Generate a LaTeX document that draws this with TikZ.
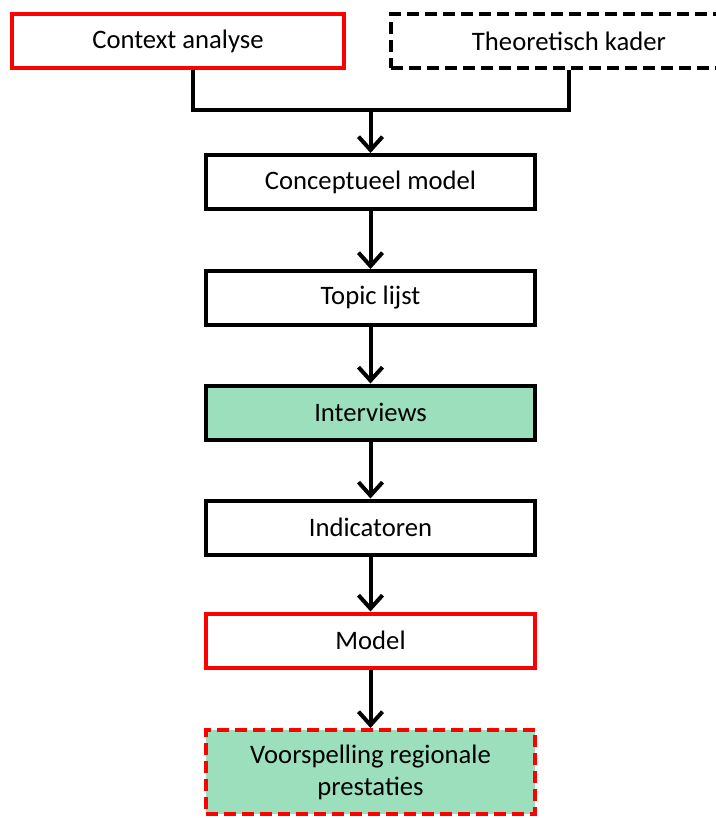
\documentclass[tikz,border=0pt]{standalone}
\usepackage{fontspec}
\setmainfont{Carlito}
\usetikzlibrary{arrows.meta}
\definecolor{boxred}{RGB}{255,0,0}
\definecolor{boxgreen}{RGB}{155,223,188}
\begin{document}
\begin{tikzpicture}[x=0.75pt,y=-0.75pt,
    stepbox/.style={draw=black,line width=3pt,fill=white,minimum width=247pt,
      minimum height=40.5pt,inner sep=0pt,align=center,
      font=\fontsize{20}{24}\selectfont},
    redbox/.style={stepbox,draw=boxred},
    dashbox/.style={dash pattern=on 9pt off 4.5pt},
    greenbox/.style={fill=boxgreen},
    flow/.style={line width=3pt,-{Straight Barb[length=10pt,width=18pt,line width=3pt]}}]
  \useasboundingbox (0,0) rectangle (715,818);
  \node[redbox, minimum width=249pt] (ctx) at (178,41) {Context analyse};
  \node[stepbox, dashbox, minimum width=267pt] (theo) at (569,41) {Theoretisch kader};
  \node[stepbox] (concept) at (370.5,182) {Conceptueel model};
  \node[stepbox] (topic) at (370.5,298) {Topic lijst};
  \node[stepbox, greenbox] (interv) at (370.5,412.5) {Interviews};
  \node[stepbox] (indic) at (370.5,527.5) {Indicatoren};
  \node[redbox] (model) at (370.5,640.5) {Model};
  \node[redbox, dashbox, greenbox, minimum height=63pt] (voorsp) at (370.5,772)
    {Voorspelling regionale\\prestaties};
  \coordinate (join) at (370.5,110);
  \begin{scope}[line width=3pt]
    \draw ([xshift=11pt]ctx.south) |- (join) -| (theo.south);
    \draw[flow] (join) -- (concept);
    \draw[flow] (concept) -- (topic);
    \draw[flow] (topic) -- (interv);
    \draw[flow] (interv) -- (indic);
    \draw[flow] (indic) -- (model);
    \draw[flow] (model) -- (voorsp);
  \end{scope}
\end{tikzpicture}
\end{document}
